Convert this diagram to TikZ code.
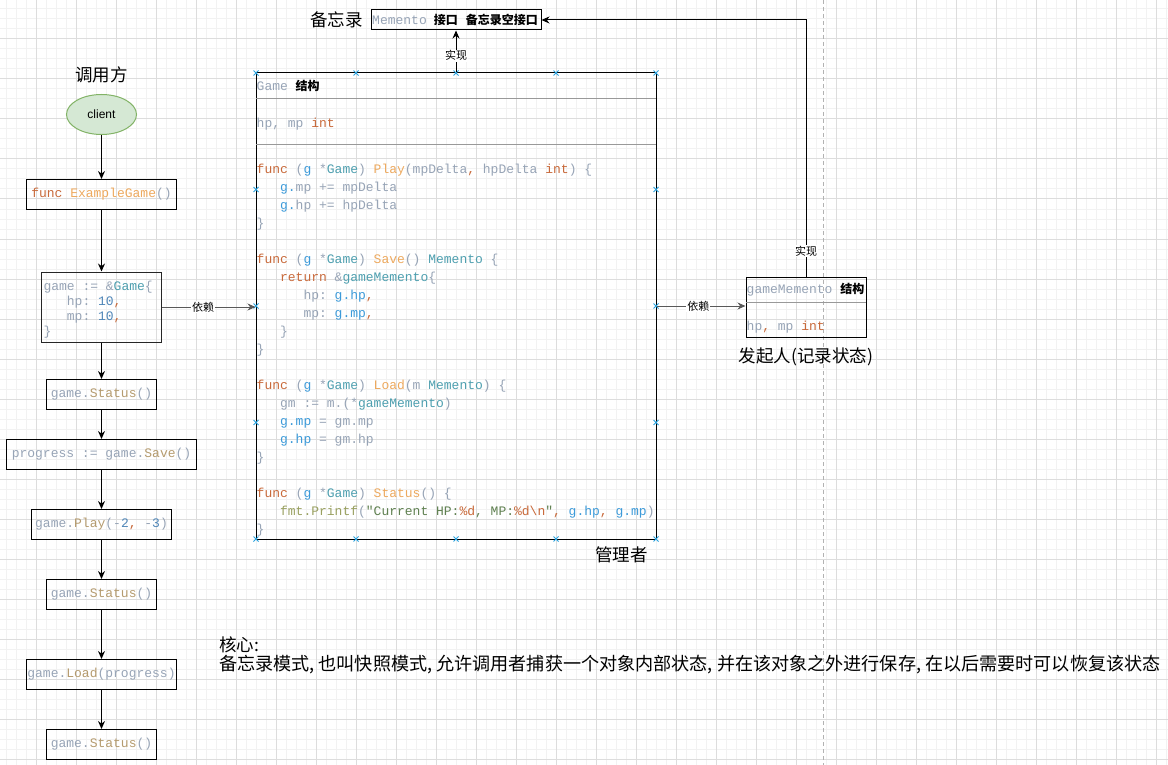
\documentclass[tikz,border=0pt]{standalone}
\usepackage{fontspec}
\setmainfont{Liberation Sans}
\setmonofont{Liberation Mono}
\newfontfamily\cjk{Noto Sans CJK SC}
\usetikzlibrary{arrows.meta,shapes.geometric}
\definecolor{cid}{HTML}{97A4B6}
\definecolor{ckw}{HTML}{C8693A}
\definecolor{cfn}{HTML}{EDA95E}
\definecolor{ctan}{HTML}{B59B6E}
\definecolor{cty}{HTML}{4E9FAF}
\definecolor{cg}{HTML}{3C9AD9}
\definecolor{cnum}{HTML}{4F86B8}
\definecolor{cstr}{HTML}{5F8050}
\definecolor{cfmt}{HTML}{99A060}
\definecolor{gridminor}{HTML}{F2F2F2}
\definecolor{gridmajor}{HTML}{DDDDDD}
\definecolor{xblue}{HTML}{2AA3E0}
\definecolor{ellfill}{HTML}{D5E8D4}
\definecolor{elldraw}{HTML}{82B366}
\newcommand\cK[1]{\textcolor{ckw}{#1}}
\newcommand\cF[1]{\textcolor{cfn}{#1}}
\newcommand\cA[1]{\textcolor{ctan}{#1}}
\newcommand\cT[1]{\textcolor{cty}{#1}}
\newcommand\cG[1]{\textcolor{cg}{#1}}
\newcommand\cN[1]{\textcolor{cnum}{#1}}
\newcommand\cS[1]{\textcolor{cstr}{#1}}
\newcommand\cM[1]{\textcolor{cfmt}{#1}}
\newcommand\zh[1]{{\cjk\bfseries\fontsize{12}{14}\selectfont\color{black}#1}}
\newcommand\gl[3]{\node[code] (gl#1) at ({256.5+#2*7.8},{173.5+18*#1}) {#3};}
\begin{document}
\begin{tikzpicture}[x=1pt,y=-1pt,
  box/.style={draw=black, line width=1pt, inner sep=0pt, minimum height=30pt, text=cid, font=\ttfamily\fontsize{13}{15}\selectfont},
  arr/.style={draw=black, line width=1pt, -{Stealth[length=8pt,width=7pt]}},
  dep/.style={arr, draw=black!65},
  lbl/.style={font=\cjk\fontsize{11}{13}\selectfont, fill=white, inner sep=1pt, text=black},
  title/.style={font=\cjk\fontsize{17.5}{20}\selectfont, inner sep=0pt},
  code/.style={anchor=base west, inner sep=0pt, font=\ttfamily\fontsize{13}{15}\selectfont, text=cid},
  sepline/.style={draw=black!40, line width=1pt},
  xmk/.style={draw=xblue, line width=0.9pt}]
\useasboundingbox (0,0) rectangle (1168,765);
\fill[white] (0,0) rectangle (1168,765);
% grid
\draw[gridminor, line width=1pt] \foreach \x in {6,16,...,1166} {(\x,0) -- (\x,765)};
\draw[gridminor, line width=1pt] \foreach \y in {9,19,...,759} {(0,\y) -- (1168,\y)};
\draw[gridmajor, line width=1pt] \foreach \x in {36,76,...,1156} {(\x,0) -- (\x,765)};
\draw[gridmajor, line width=1pt] \foreach \y in {39,79,...,759} {(0,\y) -- (1168,\y)};
\draw[black!30, line width=1pt, dash pattern=on 4pt off 3pt] (823,0) -- (823,765);

% left column
\node[title] (caller) at (101.5,75) {调用方};
\node[ellipse, draw=elldraw, fill=ellfill, line width=1pt, minimum width=70pt, minimum height=40pt, inner sep=0pt, font=\fontsize{12}{14}\selectfont] (client) at (101.5,114.5) {client};
\node[box, minimum width=150pt] (f1) at (101.5,194.5) {\cK{func} \cF{ExampleGame}()};
\node[box, draw=black!85, minimum width=120pt, minimum height=70pt] (gb) at (101.5,307) {};
\node[code] (gb1) at (43.3,290.5) {game := \&\cT{Game}\{};
\node[code] (gb2) at (66.7,305.5) {hp: \cN{10}\cK{,}};
\node[code] (gb3) at (66.7,320.5) {mp: \cN{10}\cK{,}};
\node[code] (gb4) at (43.3,335.5) {\}};
\node[box, minimum width=110pt] (s1) at (101.5,394.5) {game.\cA{Status}()};
\node[box, minimum width=190pt] (sv) at (101.5,454.5) {progress := game.\cA{Save}()};
\node[box, minimum width=140pt] (pl) at (101.5,524.5) {game.\cA{Play}(-\cN{2}\cK{,} -\cN{3})};
\node[box, minimum width=110pt] (s2) at (101.5,594.5) {game.\cA{Status}()};
\node[box, minimum width=150pt] (ld) at (101.5,674.5) {game.\cA{Load}(progress)};
\node[box, minimum width=110pt] (s3) at (101.5,744.5) {game.\cA{Status}()};
\draw[arr] (client) -- (f1);
\draw[arr] (f1) -- (gb);
\draw[arr] (gb) -- (s1);
\draw[arr] (s1) -- (sv);
\draw[arr] (sv) -- (pl);
\draw[arr] (pl) -- (s2);
\draw[arr] (s2) -- (ld);
\draw[arr] (ld) -- (s3);

% memento interface
\node[title] (memlbl) at (336.5,20) {备忘录};
\node[draw=black, line width=1pt, minimum width=170pt, minimum height=20pt, inner sep=0pt] (mem) at (456,20) {};
\node[code] (memt) at (372,24.5) {Memento\hspace{7pt}\zh{接口}\hspace{8pt}\zh{备忘录空接口}};

% Game struct
\node[draw=black, line width=1pt, minimum width=400pt, minimum height=466pt, inner sep=0pt] (game) at (456,306) {};
\draw[sepline] (256,99) -- (656,99);
\draw[sepline] (256,145) -- (656,145);
\node[code] (gh) at (256.5,90.5) {Game \zh{结构}};
\node[code] (gf) at (256.5,127.5) {hp, mp \cK{int}};
\gl{0}{0}{\cK{func} (\cG{g} *\cT{Game}) \cF{Play}(mpDelta\cK{,} hpDelta \cK{int}) \{}
\gl{1}{3}{\cG{g.}mp += mpDelta}
\gl{2}{3}{\cG{g.}hp += hpDelta}
\gl{3}{0}{\}}
\gl{5}{0}{\cK{func} (\cG{g} *\cT{Game}) \cF{Save}() \cT{Memento} \{}
\gl{6}{3}{\cK{return} \&\cT{gameMemento}\{}
\gl{7}{6}{hp: \cG{g.hp}\cK{,}}
\gl{8}{6}{mp: \cG{g.mp}\cK{,}}
\gl{9}{3}{\}}
\gl{10}{0}{\}}
\gl{12}{0}{\cK{func} (\cG{g} *\cT{Game}) \cF{Load}(m \cT{Memento}) \{}
\gl{13}{3}{gm := m.(*\cT{gameMemento})}
\gl{14}{3}{\cG{g.mp} = gm.mp}
\gl{15}{3}{\cG{g.hp} = gm.hp}
\gl{16}{0}{\}}
\gl{18}{0}{\cK{func} (\cG{g} *\cT{Game}) \cF{Status}() \{}
\gl{19}{3}{\cM{fmt.Printf}(\cS{"Current HP:}\cK{\%d}\cS{, MP:}\cK{\%d\textbackslash{}n}\cS{"}\cK{,} \cG{g.hp}\cK{,} \cG{g.mp})}
\gl{20}{0}{\}}
\foreach \p in {(256,73),(356,73),(456,73),(556,73),(656,73),(256,539),(356,539),(456,539),(556,539),(656,539),(256,189.5),(256,306),(256,422.5),(656,189.5),(656,306),(656,422.5)}
  \draw[xmk] \p +(-2.5,-2.5) -- +(2.5,2.5) \p +(-2.5,2.5) -- +(2.5,-2.5);
\node[title] (mgr) at (621.5,555) {管理者};

% gameMemento
\node[draw=black, line width=1pt, minimum width=120pt, minimum height=60pt, inner sep=0pt] (gm) at (806,307) {};
\draw[sepline] (746,302) -- (866,302);
\node[code] (gmh) at (746.5,293.5) {gameMemento \zh{结构}};
\node[code] (gmf) at (746.5,330.5) {hp\cK{,} mp \cK{int}};
\node[title] (orig) at (806,357) {发起人(记录状态)};

% connectors
\draw[dep] (gb.east) -- (gb.east -| game.west) node[lbl, pos=0.44] {依赖};
\draw[dep] (game.east) -- (game.east -| gm.west) node[lbl, pos=0.47] {依赖};
\draw[arr] (game.north) -- (mem.south) node[lbl, pos=0.4] {实现};
\draw[arr] (gm.north) |- (mem.east) node[lbl, pos=0.05] {实现};

% core text
\node[title, anchor=west] (core1) at (219,645) {核心:};
\node[title, anchor=west, font=\cjk\fontsize{18.1}{20}\selectfont] (core2) at (219,665) {备忘录模式, 也叫快照模式, 允许调用者捕获一个对象内部状态, 并在该对象之外进行保存, 在以后需要时可以恢复该状态};
\end{tikzpicture}
\end{document}
